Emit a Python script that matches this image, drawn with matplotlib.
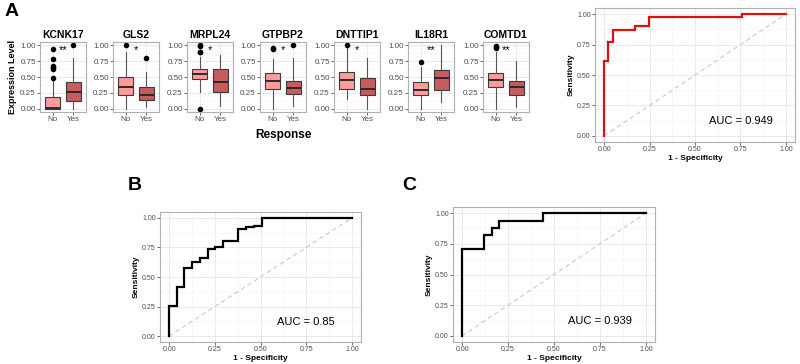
import matplotlib
matplotlib.use("Agg")
import matplotlib.pyplot as plt
import numpy as np

plt.rcParams["font.family"] = ["Liberation Sans", "DejaVu Sans"]

W, H = 800, 364

# ---- boxplot data (panel A) ----
genes = ["KCNK17", "GLS2", "MRPL24", "GTPBP2", "DNTTIP1", "IL18R1", "COMTD1"]
groups = ["No", "Yes"]
signif = ["**", "*", "*", "*", "*", "**", "**"]
# (whislo, q1, med, q3, whishi) for No / Yes
stats_no = [
    (0.00, 0.00, 0.02, 0.18, 0.43),
    (0.00, 0.21, 0.34, 0.50, 0.90),
    (0.27, 0.47, 0.54, 0.62, 0.82),
    (0.00, 0.31, 0.43, 0.56, 0.79),
    (0.16, 0.31, 0.46, 0.58, 0.98),
    (0.00, 0.22, 0.30, 0.42, 0.65),
    (0.00, 0.34, 0.45, 0.56, 0.90),
]
stats_yes = [
    (0.00, 0.13, 0.27, 0.42, 0.80),
    (0.03, 0.14, 0.22, 0.35, 0.58),
    (0.05, 0.27, 0.42, 0.62, 0.85),
    (0.05, 0.23, 0.32, 0.44, 0.80),
    (0.00, 0.21, 0.31, 0.49, 0.80),
    (0.11, 0.29, 0.49, 0.61, 1.00),
    (0.03, 0.22, 0.34, 0.43, 0.75),
]
fliers_no = [
    [0.49, 0.63, 0.66, 0.68, 0.78, 0.94],
    [1.00],
    [0.00, 0.89, 0.90, 0.98, 1.00],
    [0.94, 0.96],
    [1.00],
    [0.74],
    [0.95, 0.97, 0.99],
]
fliers_yes = [[1.00], [0.80], [], [1.00], [], [], []]

# ---- ROC data ----
roc_a_fpr = [0, 0, 0.02, 0.02, 0.05, 0.05, 0.17, 0.17, 0.245, 0.245, 0.76, 0.76, 1.0]
roc_a_tpr = [0, 0.615, 0.615, 0.77, 0.77, 0.87, 0.87, 0.90, 0.90, 0.975, 0.975, 1.0, 1.0]
roc_b_fpr = [0, 0, 0.042, 0.042, 0.084, 0.084, 0.125, 0.125, 0.167, 0.167, 0.211, 0.211,
             0.253, 0.253, 0.295, 0.295, 0.376, 0.376, 0.422, 0.422, 0.464, 0.464,
             0.506, 0.506, 1.0]
roc_b_tpr = [0, 0.256, 0.256, 0.417, 0.417, 0.572, 0.572, 0.628, 0.628, 0.665, 0.665,
             0.741, 0.741, 0.755, 0.755, 0.806, 0.806, 0.904, 0.904, 0.924, 0.924,
             0.935, 0.935, 1.0, 1.0]
roc_c_fpr = [0, 0, 0.121, 0.121, 0.161, 0.161, 0.199, 0.199, 0.442, 0.442, 1.0]
roc_c_tpr = [0, 0.708, 0.708, 0.819, 0.819, 0.881, 0.881, 0.939, 0.939, 1.0, 1.0]
auc_labels = ["AUC = 0.949", "AUC = 0.85", "AUC = 0.939"]

fig = plt.figure(figsize=(W / 100, H / 100), dpi=100)


def px_axes(x0, y0, x1, y1):
    return fig.add_axes([x0 / W, 1 - y1 / H, (x1 - x0) / W, (y1 - y0) / H])


def style_bw(ax, fs=6):
    ax.set_facecolor("white")
    for s in ax.spines.values():
        s.set_color("#b0b0b0")
        s.set_linewidth(0.8)
    ax.grid(True, which="major", color="#e6e6e6", lw=0.6)
    ax.grid(True, which="minor", color="#f2f2f2", lw=0.4)
    ax.set_axisbelow(True)
    ax.tick_params(axis="both", labelsize=fs, colors="#4d4d4d", length=2,
                   width=0.6, pad=1)
    ax.tick_params(which="minor", length=0)


col_no = "#ff9b9b"
col_yes = "#c85c5c"

lefts = [40, 113, 187, 260, 334, 408, 483]
for i, g in enumerate(genes):
    ax = px_axes(lefts[i], 42, lefts[i] + 46, 112)
    bxp_stats = []
    for st, fl, lab in ((stats_no[i], fliers_no[i], "No"), (stats_yes[i], fliers_yes[i], "Yes")):
        lo, q1, med, q3, hi = st
        bxp_stats.append(dict(whislo=lo, q1=q1, med=med, q3=q3, whishi=hi,
                              fliers=fl, label=lab))
    bp = ax.bxp(bxp_stats, positions=[1, 2], widths=0.75, patch_artist=True,
                showcaps=False,
                boxprops=dict(edgecolor="#3a3a3a", linewidth=0.8),
                medianprops=dict(color="#2a2a2a", linewidth=1.4),
                whiskerprops=dict(color="#555555", linewidth=0.8),
                flierprops=dict(marker="o", markerfacecolor="black",
                                markeredgecolor="black", markersize=3))
    bp["boxes"][0].set_facecolor(col_no)
    bp["boxes"][1].set_facecolor(col_yes)
    ax.set_xlim(0.4, 2.6)
    ax.set_ylim(-0.05, 1.05)
    ax.set_yticks([0, 0.25, 0.5, 0.75, 1.0])
    ax.set_yticks([0.125, 0.375, 0.625, 0.875], minor=True)
    ax.set_yticklabels(["0.00", "0.25", "0.50", "0.75", "1.00"])
    ax.set_xticks([1, 2])
    ax.set_xticklabels(groups)
    style_bw(ax, fs=5.8)
    ax.set_title(g, fontsize=7.5, fontweight="bold", pad=3)
    ax.text(1.5, 0.92, signif[i], ha="center", va="center", fontsize=8)
    if i == 0:
        ax.set_ylabel("Expression Level", fontsize=6.5, fontweight="bold", labelpad=2)

fig.text(283 / W, 1 - 135 / H, "Response", ha="center", va="center",
         fontsize=8.5, fontweight="bold")


def roc_panel(box, fpr, tpr, color, auc):
    ax = px_axes(*box)
    ax.plot([0, 1], [0, 1], ls=(0, (4, 3)), color="#c8c8c8", lw=0.8)
    ax.plot(fpr, tpr, color=color, lw=1.6, solid_joinstyle="miter")
    ax.set_xlim(-0.05, 1.05)
    ax.set_ylim(-0.05, 1.05)
    t = [0, 0.25, 0.5, 0.75, 1.0]
    tl = ["0.00", "0.25", "0.50", "0.75", "1.00"]
    ax.set_xticks(t)
    ax.set_xticklabels(tl)
    ax.set_yticks(t)
    ax.set_yticklabels(tl)
    ax.set_xticks([0.125, 0.375, 0.625, 0.875], minor=True)
    ax.set_yticks([0.125, 0.375, 0.625, 0.875], minor=True)
    style_bw(ax, fs=5)
    ax.set_xlabel("1 - Specificity", fontsize=6, fontweight="bold", labelpad=1)
    ax.set_ylabel("Sensitivity", fontsize=6, fontweight="bold", labelpad=2)
    ax.text(0.75, 0.12, auc, ha="center", va="center", fontsize=8)
    return ax


roc_panel((595, 8, 795, 142), roc_a_fpr, roc_a_tpr, "#e01010", auc_labels[0])
roc_panel((160, 212, 361, 342), roc_b_fpr, roc_b_tpr, "black", auc_labels[1])
roc_panel((453, 207, 655, 342), roc_c_fpr, roc_c_tpr, "black", auc_labels[2])

for lab, x, y in (("A", 5, 12), ("B", 128, 185), ("C", 402, 185)):
    fig.text(x / W, 1 - y / H, lab, ha="left", va="center", fontsize=14,
             fontweight="bold")

fig.savefig("out.png", dpi=100, facecolor="white")
